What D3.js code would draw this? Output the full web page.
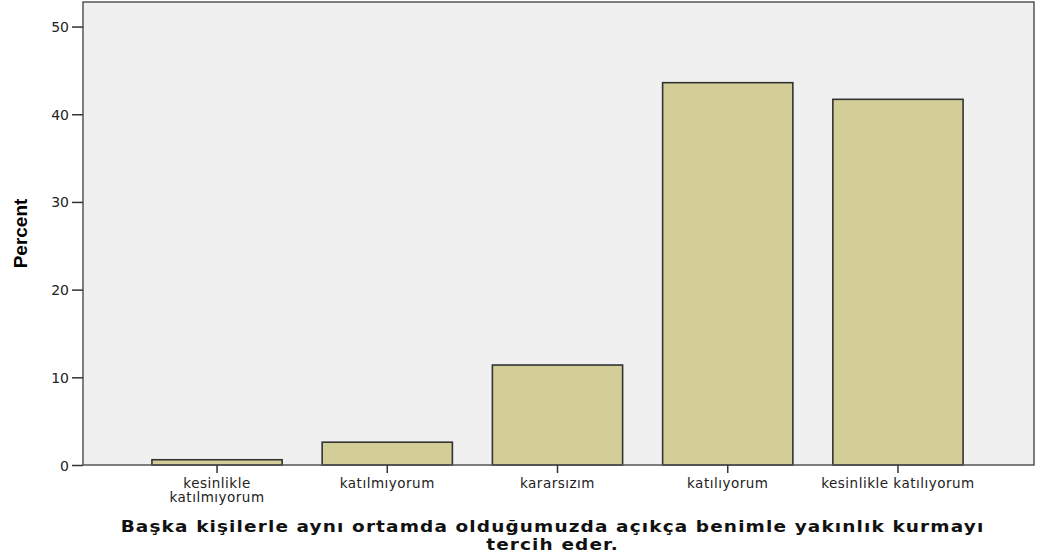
<!DOCTYPE html>
<html>
<head>
<meta charset="utf-8">
<script src="https://cdn.jsdelivr.net/npm/d3@7"></script>
<style>
  body { margin: 0; background: #fff; }
  .tick text { font-family: "DejaVu Sans", sans-serif; fill: #222; }
</style>
</head>
<body>
<div id="chart"></div>
<script>
// chart values
var categories = ["kesinlikle katılmıyorum", "katılmıyorum", "kararsızım", "katılıyorum", "kesinlikle katılıyorum"];
var catLines = [["kesinlikle", "katılmıyorum"], ["katılmıyorum"], ["kararsızım"], ["katılıyorum"], ["kesinlikle katılıyorum"]];
var percents = [0.6, 2.6, 11.4, 43.6, 41.7];
var yTicks = [0, 10, 20, 30, 40, 50];
var titleLines = ["Başka kişilerle aynı ortamda olduğumuzda açıkça benimle yakınlık kurmayı", "tercih eder."];

function drawChart() {
	var W = 1037, H = 559;
	var margin = {top: 2, right: 3, bottom: 94, left: 83},
	w = W - margin.left - margin.right,
	h = H - margin.top - margin.bottom;

	var svg = d3.select("#chart")
				.append("svg")
				.attr("width", W)
				.attr("height", H)
				.append("g")
				.attr("transform", "translate(" + margin.left + "," + margin.top + ")");

	// plot background
	svg.append("rect")
	   .attr("width", w)
	   .attr("height", h)
	   .attr("fill", "#f0f0f0");

	var xScale = d3.scaleBand().domain(categories)
				   .range([49, 900])
				   .paddingInner(0.235)
				   .paddingOuter(0.117);
	var yScale = d3.scaleLinear().domain([0, 52.8]).range([h, 0]);

	// bars
	svg.selectAll("rect.bar")
	   .data(percents)
	   .enter()
	   .append("rect")
	   .attr("class", "bar")
	   .attr("x", function(d, i){ return xScale(categories[i]); })
	   .attr("y", function(d){ return yScale(d); })
	   .attr("width", xScale.bandwidth())
	   .attr("height", function(d){ return yScale(0) - yScale(d); })
	   .attr("fill", "#d3ce97")
	   .attr("stroke", "#333")
	   .attr("stroke-width", 1.6);

	// frame
	svg.append("rect")
	   .attr("width", w)
	   .attr("height", h)
	   .attr("fill", "none")
	   .attr("stroke", "#555")
	   .attr("stroke-width", 1.5);

	// y axis
	var yAxis = d3.axisLeft(yScale).tickValues(yTicks).tickSize(11).tickPadding(3);
	var gY = svg.append("g").call(yAxis);
	gY.select(".domain").remove();
	gY.selectAll(".tick line").attr("stroke", "#333").attr("stroke-width", 1.5);
	gY.selectAll(".tick text").attr("font-size", 14).attr("dy", "0.36em");

	// x axis
	var xAxis = d3.axisBottom(xScale).tickSize(8).tickFormat("");
	var gX = svg.append("g").attr("transform", "translate(0," + h + ")").call(xAxis);
	gX.select(".domain").remove();
	gX.selectAll(".tick line").attr("stroke", "#333").attr("stroke-width", 1.5);
	gX.selectAll(".tick").each(function(d, i) {
		var t = d3.select(this).append("text")
				  .attr("font-size", 13.5)
				  .attr("letter-spacing", 0.5)
				  .attr("text-anchor", "middle");
		catLines[i].forEach(function(line, j) {
			t.append("tspan").attr("x", 0).attr("y", 23 + j * 14).text(line);
		});
	});

	// y label
	svg.append("text")
	   .attr("transform", "translate(" + (-56) + "," + (h / 2) + ") rotate(-90)")
	   .attr("text-anchor", "middle")
	   .attr("font-family", "'Liberation Sans Narrow', 'Arial Narrow', sans-serif")
	   .attr("font-weight", "bold")
	   .attr("font-size", 19)
	   .text("Percent");

	// x title (the original is drawn in a wide face, so stretch it horizontally)
	var titles = svg.selectAll("text.title")
	   .data(titleLines)
	   .enter()
	   .append("text")
	   .attr("class", "title")
	   .attr("text-anchor", "middle")
	   .attr("font-family", "'DejaVu Sans', sans-serif")
	   .attr("font-weight", "bold")
	   .attr("font-size", 16.5)
	   .attr("letter-spacing", 1)
	   .attr("fill", "#111")
	   .text(function(d){ return d; });

	var sx = 864 / titles.nodes()[0].getComputedTextLength();
	titles.attr("transform", function(d, i){
		return "translate(" + (w / 2 - 6) + "," + (h + 67 + i * 18) + ") scale(" + sx + ",1)";
	});
}

drawChart();
</script>
</body>
</html>
